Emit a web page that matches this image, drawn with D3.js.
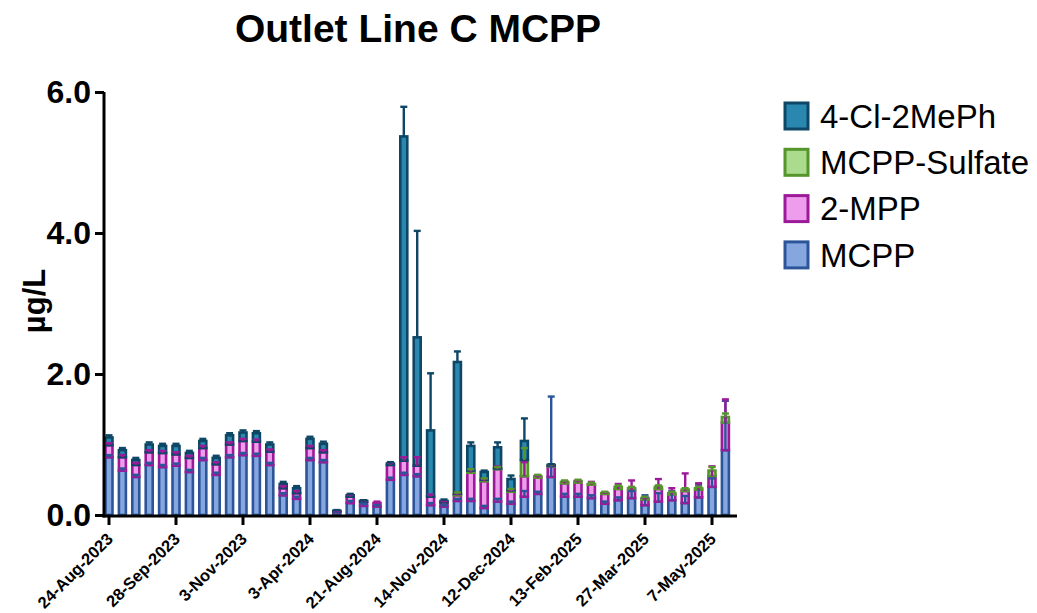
<!DOCTYPE html>
<html>
<head>
<meta charset="utf-8">
<script src="https://cdn.jsdelivr.net/npm/d3@7"></script>
<style>
  body { margin: 0; background: #fff; }
  svg { font-family: "Liberation Sans", Arial, sans-serif; }
</style>
</head>
<body>
<svg id="chart" width="1037" height="613"></svg>
<script>
// one bar per sample, labels every fifth sample
var tickLabels = ["24-Aug-2023", "28-Sep-2023", "3-Nov-2023", "3-Apr-2024", "21-Aug-2024",
  "14-Nov-2024", "12-Dec-2024", "13-Feb-2025", "27-Mar-2025", "7-May-2025"];
var nSamples = 47;

var mcpp = [0.82,0.63,0.54,0.71,0.68,0.70,0.61,0.78,0.57,0.82,0.85,0.84,0.71,0.28,0.23,0.78,0.75,0.04,0.17,0.13,
  0.12,0.50,0.57,0.55,0.14,0.12,0.20,0.20,0.10,0.19,0.16,0.26,0.30,0.54,0.26,0.26,0.24,0.16,0.21,0.24,
  0.14,0.19,0.21,0.17,0.25,0.40,0.92];
var mpp2 = [0.17,0.19,0.17,0.18,0.20,0.16,0.20,0.17,0.15,0.18,0.20,0.20,0.19,0.10,0.08,0.17,0.14,0.01,0.09,0.06,
  0.05,0.21,0.20,0.15,0.12,0.06,0.08,0.40,0.38,0.46,0.17,0.29,0.23,0.15,0.19,0.20,0.19,0.14,0.16,0.11,
  0.08,0.18,0.08,0.17,0.11,0.15,0.39];
var sulfate = [0,0,0,0,0,0,0,0,0,0,0,0,0,0,0,0,0,0,0,0,
  0,0,0,0,0,0,0.02,0.03,0.02,0.01,0.02,0.23,0.02,0.01,0.02,0.02,0.01,0.01,0.03,0.03,
  0.02,0.03,0.02,0.02,0.02,0.08,0.08];
var clph = [0.11,0.10,0.07,0.11,0.10,0.12,0.07,0.10,0.09,0.13,0.12,0.12,0.10,0.06,0.07,0.13,0.12,0.01,0.02,0.01,
  0,0.02,4.60,1.82,0.94,0.02,1.87,0.35,0.11,0.30,0.16,0.27,0,0.01,0,0,0,0,0,0,
  0,0,0,0,0,0,0];

var errMcpp = [0.03,0.03,0.03,0.03,0.03,0.03,0.03,0.03,0.03,0.03,0.03,0.03,0.03,0.03,0.03,0.03,0.03,0.01,0.03,0.03,
  0.02,0.03,0.03,0.03,0.03,0.02,0.03,0.03,0.03,0.04,0.03,0.08,0.03,1.14,0.04,0.04,0.04,0.03,0.04,0.10,
  0.14,0.12,0.13,0.10,0.18,0.12,0.70];
var errMpp2 = [0.03,0.03,0.03,0.03,0.03,0.03,0.03,0.03,0.03,0.03,0.03,0.03,0.03,0.03,0.03,0.03,0.03,0.01,0.03,0.02,
  0.02,0.03,0.05,0.12,0.03,0.02,0.03,0.05,0.03,0.04,0.03,0.20,0.03,0.02,0.03,0.03,0.04,0.02,0.07,0.14,
  0.03,0.14,0.09,0.25,0.09,0.14,0.33];
var errSulfate = [0,0,0,0,0,0,0,0,0,0,0,0,0,0,0,0,0,0,0,0,
  0,0,0,0,0,0,0.02,0.02,0.02,0.02,0.02,0.17,0.02,0.02,0.02,0.02,0.02,0.02,0.02,0.02,
  0.02,0.02,0.02,0.02,0.02,0.05,0.05];
var errClph = [0.03,0.03,0.03,0.03,0.03,0.03,0.03,0.03,0.03,0.03,0.03,0.03,0.03,0.03,0.03,0.03,0.03,0.01,0.02,0.01,
  0,0.02,0.42,1.51,0.81,0.02,0.15,0.05,0.02,0.07,0.05,0.32,0,0.01,0,0,0,0,0,0,
  0,0,0,0,0,0,0];

var series = [
  { name: "MCPP", values: mcpp, err: errMcpp, fill: "#86a6e0", stroke: "#2c5599" },
  { name: "2-MPP", values: mpp2, err: errMpp2, fill: "#ee9cec", stroke: "#9c1a9a" },
  { name: "MCPP-Sulfate", values: sulfate, err: errSulfate, fill: "#abdb8c", stroke: "#55952c" },
  { name: "4-Cl-2MePh", values: clph, err: errClph, fill: "#2a88b0", stroke: "#0e4765" }
];

var svg = d3.select("#chart");

var x = d3.scaleBand()
    .domain(d3.range(nSamples))
    .range([102.3, 102.3 + nSamples * 13.4])
    .paddingInner(0.3)
    .paddingOuter(0.15);

var y = d3.scaleLinear()
    .domain([0, 6])
    .range([515, 92]);

// stack the segments
var segs = [], errs = [];
d3.range(nSamples).forEach(function(i) {
  var base = 0;
  series.forEach(function(s) {
    var v = s.values[i];
    if (v > 0) {
      segs.push({ i: i, y0: base, y1: base + v, s: s });
      if (s.err[i] > 0) errs.push({ i: i, top: base + v, e: s.err[i], s: s });
    }
    base += v;
  });
});

svg.append("g").selectAll("rect")
    .data(segs)
  .enter().append("rect")
    .attr("x", function(d) { return x(d.i) + 1.2; })
    .attr("width", x.bandwidth() - 2.4)
    .attr("y", function(d) { return y(d.y1); })
    .attr("height", function(d) { return Math.max(0.5, y(d.y0) - y(d.y1)); })
    .attr("fill", function(d) { return d.s.fill; })
    .attr("stroke", function(d) { return d.s.stroke; })
    .attr("stroke-width", 2.6);

var eg = svg.append("g").selectAll("g")
    .data(errs)
  .enter().append("g")
    .attr("stroke", function(d) { return d.s.stroke; })
    .attr("stroke-width", 2.4);

eg.append("line")
    .attr("x1", function(d) { return x(d.i) + x.bandwidth() / 2; })
    .attr("x2", function(d) { return x(d.i) + x.bandwidth() / 2; })
    .attr("y1", function(d) { return y(d.top); })
    .attr("y2", function(d) { return y(d.top + d.e); });

eg.append("line")
    .attr("x1", function(d) { return x(d.i) + x.bandwidth() / 2 - 3.5; })
    .attr("x2", function(d) { return x(d.i) + x.bandwidth() / 2 + 3.5; })
    .attr("y1", function(d) { return y(d.top + d.e); })
    .attr("y2", function(d) { return y(d.top + d.e); });

// y axis
var yAxis = svg.append("g")
    .attr("transform", "translate(104,0)")
    .call(d3.axisLeft(y).tickValues([0, 2, 4, 6]).tickFormat(d3.format(".1f")).tickSize(9).tickPadding(4));
yAxis.select(".domain").attr("stroke-width", 3).attr("d", "M0,517.5V92");
yAxis.selectAll(".tick line").attr("stroke-width", 3);
yAxis.selectAll(".tick text")
    .attr("font-size", 32).attr("font-weight", "bold").attr("fill", "#000")
    .attr("font-family", "Liberation Sans, Arial, sans-serif");

// x axis
var tickIdx = tickLabels.map(function(d, k) { return k * 5; });
var xAxis = svg.append("g")
    .attr("transform", "translate(0,516)")
    .call(d3.axisBottom(x).tickValues(tickIdx)
      .tickFormat(function(d) { return tickLabels[d / 5]; }).tickSize(9).tickSizeOuter(0));
xAxis.select(".domain").attr("stroke-width", 3).attr("d", "M102.5,0H737");
xAxis.selectAll(".tick line").attr("stroke-width", 3);
xAxis.selectAll(".tick text")
    .attr("font-size", 16.5).attr("font-weight", "bold").attr("fill", "#000")
    .attr("font-family", "Liberation Sans, Arial, sans-serif")
    .attr("text-anchor", "end")
    .attr("x", 0).attr("y", 0).attr("dy", 0)
    .attr("transform", "translate(5,24) rotate(-45)");

// title and axis label
svg.append("text")
    .attr("x", 418).attr("y", 42)
    .attr("text-anchor", "middle")
    .attr("font-size", 39).attr("font-weight", "bold")
    .text("Outlet Line C MCPP");

svg.append("text")
    .attr("transform", "translate(45,301) rotate(-90)")
    .attr("text-anchor", "middle")
    .attr("font-size", 31).attr("font-weight", "bold")
    .text("µg/L");

// legend, top series first
var legend = svg.append("g").selectAll("g")
    .data(series.slice().reverse())
  .enter().append("g")
    .attr("transform", function(d, i) { return "translate(785," + (103 + i * 46.3) + ")"; });

legend.append("rect")
    .attr("width", 23).attr("height", 26)
    .attr("fill", function(d) { return d.fill; })
    .attr("stroke", function(d) { return d.stroke; })
    .attr("stroke-width", 3);

legend.append("text")
    .attr("x", 35).attr("y", 13).attr("dy", "0.36em")
    .attr("font-size", 33)
    .text(function(d) { return d.name; });
</script>
</body>
</html>
